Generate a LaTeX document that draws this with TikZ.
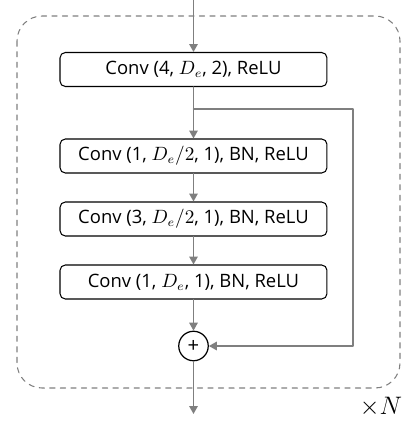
\documentclass[tikz,border=0pt]{standalone}
\usepackage{fontspec}
\setmainfont{Open Sans}
\usetikzlibrary{arrows.meta}
\definecolor{flowgray}{HTML}{7F7F7F}

\begin{document}
\begin{tikzpicture}[line cap=round,line join=round,>={Triangle[width=4.8pt,length=4.5pt]},x=0.02cm,y=-0.02cm,
    convbox/.style={draw=black,line width=0.6pt,rounded corners=3pt,minimum width=5.34cm,minimum height=0.68cm,inner sep=0pt,font=\fontsize{10.5}{12}\selectfont},
    sumnode/.style={draw=black,line width=0.7pt,circle,minimum size=0.59cm,inner sep=0pt,font=\fontsize{11.5}{12}\selectfont},
    flow/.style={->,draw=flowgray,line width=0.8pt}]
        \useasboundingbox (0,0) rectangle (406,424);
        \draw [dashed,flowgray,line width=0.6pt,rounded corners=0.5cm] (17,16) rectangle (400,388);
        \node[convbox] (conv1) at (193.5,69.5) {Conv (4, $D_e$, 2), ReLU};
        \node[convbox] (conv2) at (193.5,156) {Conv (1, $D_e/2$, 1), BN, ReLU};
        \node[convbox] (conv3) at (193.5,219) {Conv (3, $D_e/2$, 1), BN, ReLU};
        \node[convbox] (conv4) at (193.5,282) {Conv (1, $D_e$, 1), BN, ReLU};
        \node[sumnode] (sum) at (193.5,346) {+};
        \coordinate (in) at (193.5,0);
        \coordinate (out) at (193.5,414);
        \coordinate (split) at (193.5,109);
        \coordinate (skip) at (353,109);
        \draw [flow] (in) -- (conv1);
        \draw [flow] (conv1) -- (conv2);
        \draw [flow] (conv2) -- (conv3);
        \draw [flow] (conv3) -- (conv4);
        \draw [flow] (conv4) -- (sum);
        \draw [flow] (split) -- (skip) |- (sum);
        \draw [flow] (sum) -- (out);
        \node[font=\Large] (rep) at (381,407) {$\times N$};
\end{tikzpicture}
\end{document}
